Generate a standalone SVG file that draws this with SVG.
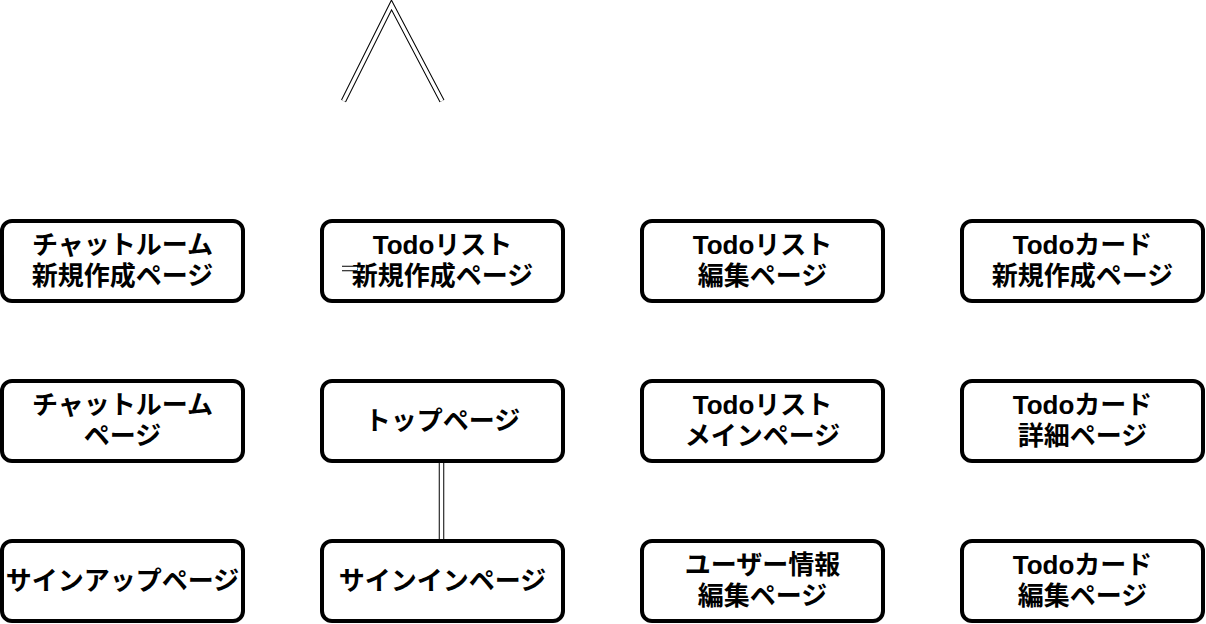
<svg xmlns="http://www.w3.org/2000/svg" width="1206" height="624" viewBox="0 0 1206 624">
<style>
.box{fill:#fff;stroke:#000;stroke-width:4}
.t{font-family:"Liberation Sans","Noto Sans CJK JP",sans-serif;font-weight:bold;font-size:26px;fill:#000;text-anchor:middle;dominant-baseline:central}
.lo{fill:none;stroke:#000;stroke-width:5.5}
.li{fill:none;stroke:#fff;stroke-width:3.5}
</style>
<rect width="1206" height="624" fill="#fff"/>
<g id="chat-new"><rect class="box" x="2" y="221" width="241" height="80" rx="10"/><text class="t" x="122.5" y="245">チャットルーム</text><text class="t" x="122.5" y="276">新規作成ページ</text></g>
<g id="todolist-new"><rect class="box" x="322" y="221" width="241" height="80" rx="10"/><text class="t" x="442.5" y="245">Todoリスト</text><text class="t" x="442.5" y="276">新規作成ページ</text></g>
<g id="todolist-edit"><rect class="box" x="642" y="221" width="241" height="80" rx="10"/><text class="t" x="762.5" y="245">Todoリスト</text><text class="t" x="762.5" y="276">編集ページ</text></g>
<g id="todocard-new"><rect class="box" x="962" y="221" width="241" height="80" rx="10"/><text class="t" x="1082.5" y="245">Todoカード</text><text class="t" x="1082.5" y="276">新規作成ページ</text></g>
<g id="chat-room"><rect class="box" x="2" y="381" width="241" height="80" rx="10"/><text class="t" x="122.5" y="405">チャットルーム</text><text class="t" x="122.5" y="436">ページ</text></g>
<g id="top"><rect class="box" x="322" y="381" width="241" height="80" rx="10"/><text class="t" x="442.5" y="421">トップページ</text></g>
<g id="todolist-main"><rect class="box" x="642" y="381" width="241" height="80" rx="10"/><text class="t" x="762.5" y="405">Todoリスト</text><text class="t" x="762.5" y="436">メインページ</text></g>
<g id="todocard-detail"><rect class="box" x="962" y="381" width="241" height="80" rx="10"/><text class="t" x="1082.5" y="405">Todoカード</text><text class="t" x="1082.5" y="436">詳細ページ</text></g>
<g id="signup"><rect class="box" x="2" y="541" width="241" height="80" rx="10"/><text class="t" x="122.5" y="581">サインアップページ</text></g>
<g id="signin"><rect class="box" x="322" y="541" width="241" height="80" rx="10"/><text class="t" x="442.5" y="581">サインインページ</text></g>
<g id="user-edit"><rect class="box" x="642" y="541" width="241" height="80" rx="10"/><text class="t" x="762.5" y="565">ユーザー情報</text><text class="t" x="762.5" y="596">編集ページ</text></g>
<g id="todocard-edit"><rect class="box" x="962" y="541" width="241" height="80" rx="10"/><text class="t" x="1082.5" y="565">Todoカード</text><text class="t" x="1082.5" y="596">編集ページ</text></g>
<g id="connectors">
<path class="lo" d="M343.5,101 L391.5,5 L442,101"/>
<path class="li" d="M343.5,101 L391.5,5 L442,101"/>
<path class="lo" d="M441.5,463 V539"/>
<path class="li" d="M441.5,463 V539"/>
<path class="lo" d="M342,268.5 H357"/>
<path class="li" d="M342,268.5 H357"/>
</g>
</svg>
